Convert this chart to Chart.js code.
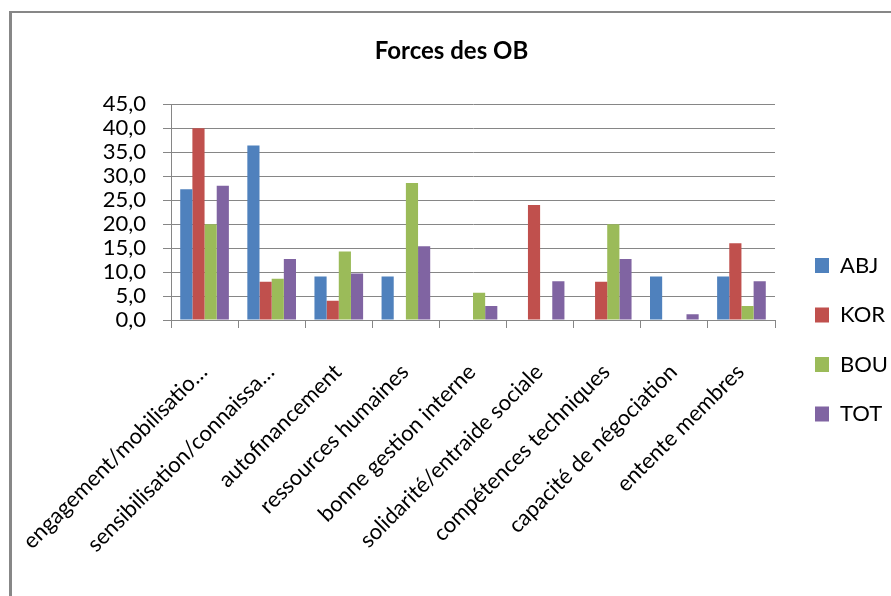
<!DOCTYPE html>
<html>
<head>
<meta charset="utf-8">
<script src="https://cdn.jsdelivr.net/npm/chart.js@4/dist/chart.umd.min.js"></script>
<style>
  html, body { margin: 0; padding: 0; background: #fff; }
  body { width: 891px; height: 596px; position: relative; overflow: hidden; }
  #frame { position: absolute; left: 9px; top: 11px; right: 0; bottom: 0;
           border-left: 3px solid #878787; border-top: 2px solid #878787; }
  #wrap { position: absolute; left: 12px; top: 0; width: 879px; height: 596px; }
</style>
</head>
<body>
<div id="frame"></div>
<div id="wrap"><canvas id="chart" width="879" height="596"></canvas></div>
<script>
// Categories (strengths of the organisations) and percentage values per site
const categories = [
  'engagement/mobilisatio\u2026',
  'sensibilisation/connaissa\u2026',
  'autofinancement',
  'ressources humaines',
  'bonne gestion interne',
  'solidarité/entraide sociale',
  'compétences techniques',
  'capacité de négociation',
  'entente membres'
];
const seriesNames = ['ABJ', 'KOR', 'BOU', 'TOT'];
const abj = [27.3, 36.4, 9.1, 9.1, 0, 0, 0, 9.1, 9.1];
const kor = [40.0, 8.0, 4.0, 0, 0, 24.0, 8.0, 0, 16.0];
const bou = [20.0, 8.6, 14.3, 28.6, 5.7, 0, 20.0, 0, 2.9];
const tot = [28.0, 12.7, 9.7, 15.4, 2.9, 8.1, 12.7, 1.2, 8.1];
const seriesColors = ['#4F81BD', '#C0504D', '#9BBB59', '#8064A2'];
const yMax = 45;
const yStep = 5;

const GRID = '#868686';
const LEGEND_WIDTH = 116;
const LEGEND_DX = 12.5;
const LEGEND_DY = 41.75;

// Keep the legend a fixed width and move its block next to the plot
const legendPlacement = {
  id: 'legendPlacement',
  afterInit(chart) {
    const lg = chart.legend;
    const baseFit = lg.fit.bind(lg);
    lg.fit = function () { baseFit(); this.width = LEGEND_WIDTH; };
  },
  afterLayout(chart) {
    const lg = chart.legend;
    lg.left += LEGEND_DX; lg.right += LEGEND_DX;
    lg.top += LEGEND_DY; lg.bottom += LEGEND_DY;
  }
};

Chart.defaults.font.family = 'Lato';
Chart.defaults.color = '#000';

const values = [abj, kor, bou, tot];
new Chart(document.getElementById('chart'), {
  type: 'bar',
  data: {
    labels: categories,
    datasets: seriesNames.map((name, i) => ({
      label: name,
      data: values[i],
      backgroundColor: seriesColors[i],
      borderWidth: 0,
      categoryPercentage: 0.725,
      barPercentage: 1.0
    }))
  },
  options: {
    responsive: false,
    animation: false,
    devicePixelRatio: 1,
    layout: { padding: 0 },
    plugins: {
      title: {
        display: true,
        text: 'Forces des OB',
        font: { family: 'Lato', size: 24, weight: 'bold', lineHeight: 1.2 },
        color: '#000',
        padding: { top: 37, bottom: 38.5 }
      },
      legend: {
        position: 'right',
        align: 'center',
        labels: {
          boxWidth: 14,
          boxHeight: 15,
          padding: 27.5,
          font: { family: 'Lato', size: 22 },
          color: '#000'
        }
      },
      tooltip: { enabled: false }
    },
    scales: {
      x: {
        grid: {
          display: true,
          drawOnChartArea: false,
          drawTicks: true,
          tickLength: 8,
          color: GRID,
          lineWidth: 1
        },
        border: { display: true, color: GRID, width: 1 },
        ticks: {
          autoSkip: false,
          minRotation: 45,
          maxRotation: 45,
          padding: 31,
          labelOffset: -1,
          font: { family: 'Lato', size: 22 },
          color: '#000'
        },
        afterFit(scale) {
          scale.height = 276;
          scale.paddingLeft = 0;
          scale.paddingRight = 0;
        }
      },
      y: {
        min: 0,
        max: yMax,
        grid: {
          color: GRID,
          lineWidth: 1,
          drawTicks: true,
          tickLength: 8
        },
        border: { display: true, color: GRID, width: 1 },
        ticks: {
          stepSize: yStep,
          autoSkip: false,
          padding: 17,
          font: { family: 'Lato', size: 22, lineHeight: 1 },
          color: '#000',
          callback: (v) => Number(v).toFixed(1).replace('.', ',')
        },
        afterFit(scale) { scale.width = 159; }
      }
    }
  },
  plugins: [legendPlacement]
});
</script>
</body>
</html>
